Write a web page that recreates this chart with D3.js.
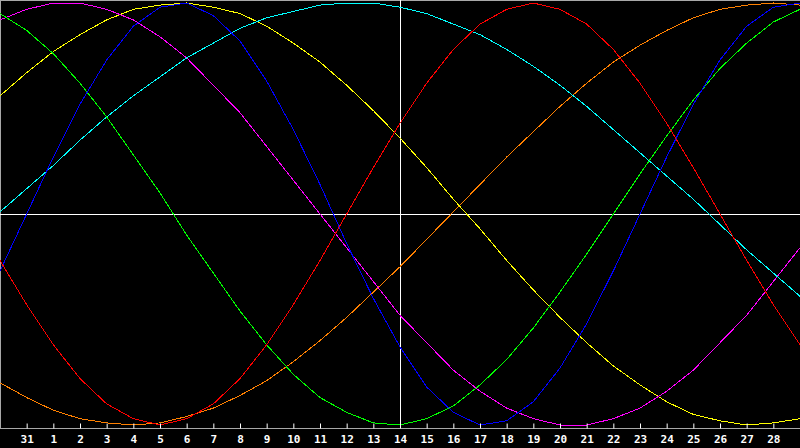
<!DOCTYPE html>
<html>
<head>
<meta charset="utf-8">
<script src="https://cdn.jsdelivr.net/npm/d3@7"></script>
<style>
html, body { margin: 0; padding: 0; background: #000; }
svg { display: block; }
</style>
</head>
<body>
<svg id="chart" width="800" height="448"></svg>
<script>
// Day labels for each sampled day (index 0..30)
const days = ["30","31","1","2","3","4","5","6","7","8","9","10","11","12","13","14","15","16","17","18","19","20","21","22","23","24","25","26","27","28","29"];
// Labelled tick days (indices 1..29)
const tickIdx = d3.range(1, 30);

const blueVals = [-0.27,0,0.27,0.52,0.73,0.89,0.98,1.00,0.94,0.82,0.63,0.40,0.14,-0.14,-0.40,-0.63,-0.82,-0.94,-1.00,-0.98,-0.89,-0.73,-0.52,-0.27,0,0.27,0.52,0.73,0.89,0.98,1.00];
const redVals = [-0.22,-0.43,-0.62,-0.78,-0.90,-0.97,-1.00,-0.97,-0.90,-0.78,-0.62,-0.43,-0.22,0,0.22,0.43,0.62,0.78,0.90,0.97,1.00,0.97,0.90,0.78,0.62,0.43,0.22,0,-0.22,-0.43,-0.62];
const greenVals = [0.95,0.87,0.76,0.62,0.46,0.28,0.10,-0.10,-0.28,-0.46,-0.62,-0.76,-0.87,-0.94,-0.99,-1.00,-0.97,-0.91,-0.81,-0.69,-0.54,-0.37,-0.19,0,0.19,0.37,0.54,0.69,0.81,0.91,0.97];
const cyanVals = [0.01,0.12,0.23,0.35,0.46,0.56,0.65,0.74,0.81,0.88,0.93,0.96,0.99,1.00,1.00,0.98,0.95,0.90,0.85,0.78,0.70,0.61,0.51,0.40,0.29,0.18,0.07,-0.05,-0.17,-0.28,-0.39];
const magentaVals = [0.92,0.97,1.00,1.00,0.97,0.92,0.84,0.74,0.61,0.48,0.32,0.16,0,-0.16,-0.32,-0.48,-0.61,-0.74,-0.84,-0.92,-0.97,-1.00,-1.00,-0.97,-0.92,-0.84,-0.74,-0.61,-0.48,-0.32,-0.16];
const yellowVals = [0.56,0.67,0.77,0.85,0.92,0.97,0.99,1.00,0.98,0.95,0.89,0.81,0.72,0.61,0.49,0.36,0.22,0.07,-0.07,-0.22,-0.36,-0.49,-0.61,-0.72,-0.81,-0.89,-0.95,-0.98,-1.00,-0.99,-0.97];
const orangeVals = [-0.80,-0.87,-0.93,-0.97,-0.99,-1.00,-0.99,-0.96,-0.92,-0.86,-0.79,-0.70,-0.60,-0.49,-0.37,-0.25,-0.12,0.01,0.14,0.27,0.39,0.51,0.62,0.72,0.80,0.87,0.93,0.97,0.99,1.00,0.99];

const seriesList = [
  { name: "orange", color: "#ff8000", values: orangeVals },
  { name: "yellow", color: "#ffff00", values: yellowVals },
  { name: "magenta", color: "#ff00ff", values: magentaVals },
  { name: "cyan", color: "#00ffff", values: cyanVals },
  { name: "green", color: "#00ff00", values: greenVals },
  { name: "blue", color: "#0000ff", values: blueVals },
  { name: "red", color: "#ff0000", values: redVals }
];

const W = 800, axisY = 428;
const svg = d3.select("#chart");
svg.append("rect").attr("width", 800).attr("height", 448).attr("fill", "#000");

const x = d3.scaleLinear().domain([0, days.length - 1]).range([0, W]);
const y = d3.scaleLinear().domain([-1, 1]).range([425, 3]);

// frame (left and top)
svg.append("line").attr("x1", 0.5).attr("x2", 0.5).attr("y1", 0).attr("y2", axisY)
  .attr("stroke", "#a8a8a8").attr("stroke-width", 1);
svg.append("line").attr("x1", 0).attr("x2", W).attr("y1", 0.5).attr("y2", 0.5)
  .attr("stroke", "#a8a8a8").attr("stroke-width", 1);

// reference lines
svg.append("line").attr("x1", 0).attr("x2", W)
  .attr("y1", Math.round(y(0)) + 0.5).attr("y2", Math.round(y(0)) + 0.5)
  .attr("stroke", "#ffffff").attr("stroke-width", 1);
svg.append("line").attr("x1", Math.round(x(15)) + 0.5).attr("x2", Math.round(x(15)) + 0.5)
  .attr("y1", 0).attr("y2", axisY)
  .attr("stroke", "#ffffff").attr("stroke-width", 1);

// curves
const line = d3.line().x((d, i) => x(i)).y(d => y(d));
svg.append("g").selectAll("path").data(seriesList).join("path")
  .attr("d", s => line(s.values))
  .attr("fill", "none")
  .attr("stroke", s => s.color)
  .attr("stroke-width", 1)
  .attr("shape-rendering", "crispEdges");

// axis
const axis = d3.axisBottom(x)
  .tickValues(tickIdx)
  .tickFormat(i => days[i])
  .tickSizeInner(-5)
  .tickSizeOuter(0)
  .tickPadding(7);
const gAxis = svg.append("g").attr("transform", `translate(0,${axisY + 0.5})`).call(axis);
gAxis.select(".domain").attr("stroke", "#a8a8a8").attr("d", `M0,0H${W}`);
gAxis.selectAll(".tick line").attr("stroke", "#ffffff");
gAxis.selectAll(".tick text")
  .attr("fill", "#ffffff")
  .attr("font-family", "'DejaVu Sans Mono', monospace")
  .attr("font-weight", "bold")
  .attr("font-size", 11);
</script>
</body>
</html>
